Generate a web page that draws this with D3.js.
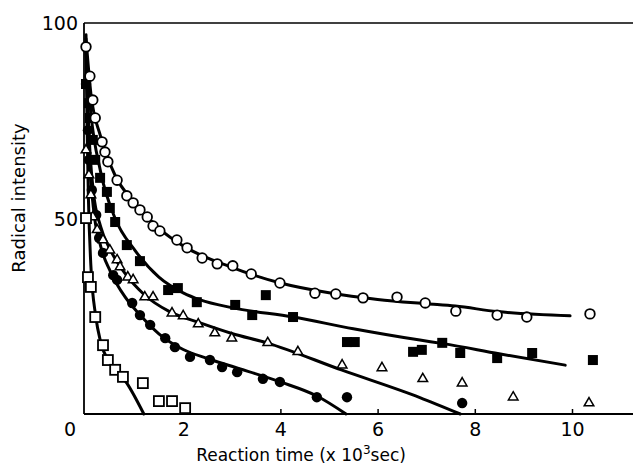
<!DOCTYPE html>
<html>
<head>
<meta charset="utf-8">
<script src="https://cdn.jsdelivr.net/npm/d3@7/dist/d3.min.js"></script>
<style>
  html, body { margin: 0; padding: 0; background: #fff; }
  svg { display: block; }
  text { font-family: "DejaVu Sans", sans-serif; fill: #000; }
</style>
</head>
<body>
<svg id="chart" width="633" height="468"></svg>
<script>
// ---- data (x in 10^3 sec, y = radical intensity) ----
const xTicks = [2, 4, 6, 8, 10];
const yTicks = [50, 100];

const openCircleX = [0, 0.08, 0.14, 0.19, 0.33, 0.39, 0.45, 0.64, 0.84, 0.97, 1.11, 1.26, 1.38, 1.52, 1.87, 2.08, 2.39, 2.70, 3.02, 3.40, 3.99, 4.71, 5.14, 5.70, 6.40, 6.98, 7.61, 8.46, 9.07, 10.37];
const openCircleY = [93.9, 86.4, 80.3, 75.7, 69.6, 67.0, 64.5, 59.8, 55.8, 54.0, 52.2, 50.4, 48.1, 46.8, 44.5, 42.5, 39.9, 38.4, 37.9, 35.8, 33.5, 30.9, 30.7, 29.7, 29.9, 28.4, 26.3, 25.3, 24.8, 25.6];

const filledSquareX = [0, 0.06, 0.08, 0.14, 0.19, 0.29, 0.43, 0.49, 0.60, 0.84, 1.11, 1.69, 1.89, 2.28, 3.07, 3.42, 3.70, 4.26, 5.37, 5.53, 6.73, 6.91, 7.33, 7.70, 8.46, 9.18, 10.43];
const filledSquareY = [84.4, 79.5, 75.7, 70.1, 65.0, 60.4, 56.8, 52.7, 49.1, 43.2, 39.1, 31.7, 32.2, 28.6, 27.9, 25.3, 30.4, 24.8, 18.4, 18.4, 15.9, 16.4, 18.2, 15.6, 14.3, 15.6, 13.8];

const openTriangleX = [0, 0.06, 0.10, 0.14, 0.23, 0.35, 0.49, 0.64, 0.70, 0.86, 0.97, 1.21, 1.38, 1.77, 2.00, 2.31, 2.65, 3.00, 3.74, 4.36, 5.27, 6.09, 6.93, 7.74, 8.79, 10.35];
const openTriangleY = [67.5, 61.1, 56.0, 50.4, 47.1, 44.5, 41.9, 39.4, 37.6, 35.0, 34.3, 29.9, 29.9, 25.8, 25.1, 23.0, 20.7, 19.4, 18.2, 15.9, 12.5, 11.8, 9.0, 7.9, 4.3, 2.8];

const filledCircleX = [0, 0.04, 0.06, 0.12, 0.21, 0.27, 0.35, 0.56, 0.64, 0.95, 1.11, 1.32, 1.63, 1.83, 2.14, 2.55, 2.80, 3.11, 3.64, 3.99, 4.75, 5.37, 7.74];
const filledCircleY = [84.4, 72.6, 65.0, 57.3, 50.9, 45.0, 41.2, 35.5, 34.3, 28.4, 25.3, 22.8, 19.4, 17.1, 14.6, 13.8, 12.0, 10.7, 9.0, 8.2, 4.3, 4.3, 2.8];

const openSquareX = [0, 0.04, 0.10, 0.19, 0.35, 0.45, 0.60, 0.76, 1.17, 1.50, 1.77, 2.04];
const openSquareY = [50.1, 35.0, 32.5, 24.8, 17.6, 13.8, 11.3, 9.5, 7.9, 3.3, 3.3, 1.5];

// fitted curves
const fitOpenCircleX = [0, 0.1, 0.3, 0.6, 1.0, 1.5, 2.0, 3.0, 4.0, 5.0, 6.0, 7.0, 7.6, 8.46, 9.96];
const fitOpenCircleY = [96, 82, 71, 61, 54, 47.5, 43, 37.5, 33.5, 31, 29.3, 28.2, 27.6, 26.2, 25.1];

const fitFilledSquareX = [0, 0.1, 0.3, 0.6, 1.0, 1.5, 2.0, 2.35, 3.0, 4.26, 5.5, 6.87, 7.35, 8.5, 9.86];
const fitFilledSquareY = [93, 77, 62, 50, 42, 35, 31, 29.2, 27.2, 24.8, 21.8, 18.9, 18.0, 15.4, 12.5];

const fitOpenTriangleX = [0, 0.05, 0.15, 0.3, 0.5, 0.8, 1.2, 1.7, 2.35, 3.0, 3.72, 5.27, 6.87, 7.7];
const fitOpenTriangleY = [95, 75, 57, 48, 42, 36, 30.5, 26.3, 23.3, 20.6, 18.2, 11.2, 4.2, 0];

const fitFilledCircleX = [0, 0.05, 0.15, 0.3, 0.5, 0.8, 1.1, 1.5, 2.0, 2.5, 3.0, 4.0, 4.75, 5.35];
const fitFilledCircleY = [95, 70, 53, 43, 36.5, 30, 25.5, 20.5, 16.5, 14.2, 12.2, 8.2, 4.6, 0];

const fitOpenSquareX = [0, 0.02, 0.05, 0.1, 0.2, 0.3, 0.5, 0.84, 1.19];
const fitOpenSquareY = [97, 75, 55, 38, 25, 18.5, 13, 7.9, 0];

// ---- drawing ----
const svg = d3.select("#chart");
const x = d3.scaleLinear().domain([0, 10]).range([86, 572]);
const y = d3.scaleLinear().domain([0, 100]).range([414, 23]);
const left = 84, right = 633;

const zip = (xs, ys) => xs.map((v, i) => [v, ys[i]]);

// frame lines
svg.append("line").attr("x1", left).attr("x2", right).attr("y1", y(100)).attr("y2", y(100))
  .attr("stroke", "#000").attr("stroke-width", 1.6);
svg.append("line").attr("x1", left).attr("x2", right).attr("y1", y(0)).attr("y2", y(0))
  .attr("stroke", "#000").attr("stroke-width", 1.8);
svg.append("line").attr("x1", left).attr("x2", left).attr("y1", y(100)).attr("y2", y(0))
  .attr("stroke", "#000").attr("stroke-width", 1.8);

// x axis ticks & labels
const xAxis = d3.axisBottom(x).tickValues(xTicks).tickSize(-5).tickPadding(12).tickFormat(d3.format("d"));
const gx = svg.append("g").attr("transform", `translate(0,${y(0)})`).call(xAxis);
gx.select(".domain").remove();
gx.selectAll(".tick line").attr("stroke", "#000").attr("stroke-width", 1.5);
gx.selectAll(".tick text").attr("font-size", 19).attr("dy", "0.5em");

// y axis labels
const yAxis = d3.axisLeft(y).tickValues(yTicks).tickSize(0).tickPadding(6).tickFormat(d3.format("d"));
const gy = svg.append("g").attr("transform", `translate(${left},0)`).call(yAxis);
gy.select(".domain").remove();
gy.selectAll(".tick text").attr("font-size", 19).attr("dy", "0.35em");

// origin label
svg.append("text").attr("x", 70).attr("y", 429).attr("text-anchor", "middle")
  .attr("dy", "0.35em").attr("font-size", 19).text("0");

// axis titles
const xt = svg.append("text").attr("x", 301).attr("y", 461).attr("text-anchor", "middle").attr("font-size", 17);
xt.append("tspan").text("Reaction time (x 10");
xt.append("tspan").attr("baseline-shift", "super").attr("font-size", 12).text("3");
xt.append("tspan").text("sec)");

svg.append("text").attr("transform", "translate(25,198) rotate(-90)").attr("text-anchor", "middle")
  .attr("font-size", 18).text("Radical intensity");

// fitted curves
const line = d3.line().x(d => x(d[0])).y(d => y(d[1])).curve(d3.curveMonotoneX);
[
  [fitOpenCircleX, fitOpenCircleY],
  [fitFilledSquareX, fitFilledSquareY],
  [fitOpenTriangleX, fitOpenTriangleY],
  [fitFilledCircleX, fitFilledCircleY],
  [fitOpenSquareX, fitOpenSquareY]
].forEach(([xs, ys]) => {
  svg.append("path").datum(zip(xs, ys)).attr("d", line)
    .attr("fill", "none").attr("stroke", "#000").attr("stroke-width", 3).attr("stroke-linecap", "round");
});

// markers
const g = svg.append("g");
g.selectAll("rect.fs").data(zip(filledSquareX, filledSquareY)).join("rect")
  .attr("x", d => x(d[0]) - 5).attr("y", d => y(d[1]) - 5).attr("width", 10).attr("height", 10)
  .attr("fill", "#000");
g.selectAll("circle.fc").data(zip(filledCircleX, filledCircleY)).join("circle")
  .attr("cx", d => x(d[0])).attr("cy", d => y(d[1])).attr("r", 5.2).attr("fill", "#000");
const tri = d3.symbol().type(d3.symbolTriangle).size(40);
g.selectAll("path.ot").data(zip(openTriangleX, openTriangleY)).join("path")
  .attr("d", tri).attr("transform", d => `translate(${x(d[0])},${y(d[1])})`)
  .attr("fill", "#fff").attr("stroke", "#000").attr("stroke-width", 1.5);
g.selectAll("rect.os").data(zip(openSquareX, openSquareY)).join("rect")
  .attr("x", d => x(d[0]) - 5).attr("y", d => y(d[1]) - 5).attr("width", 10).attr("height", 10)
  .attr("fill", "#fff").attr("stroke", "#000").attr("stroke-width", 1.8);
g.selectAll("circle.oc").data(zip(openCircleX, openCircleY)).join("circle")
  .attr("cx", d => x(d[0])).attr("cy", d => y(d[1])).attr("r", 4.8)
  .attr("fill", "#fff").attr("stroke", "#000").attr("stroke-width", 1.8);
</script>
</body>
</html>
